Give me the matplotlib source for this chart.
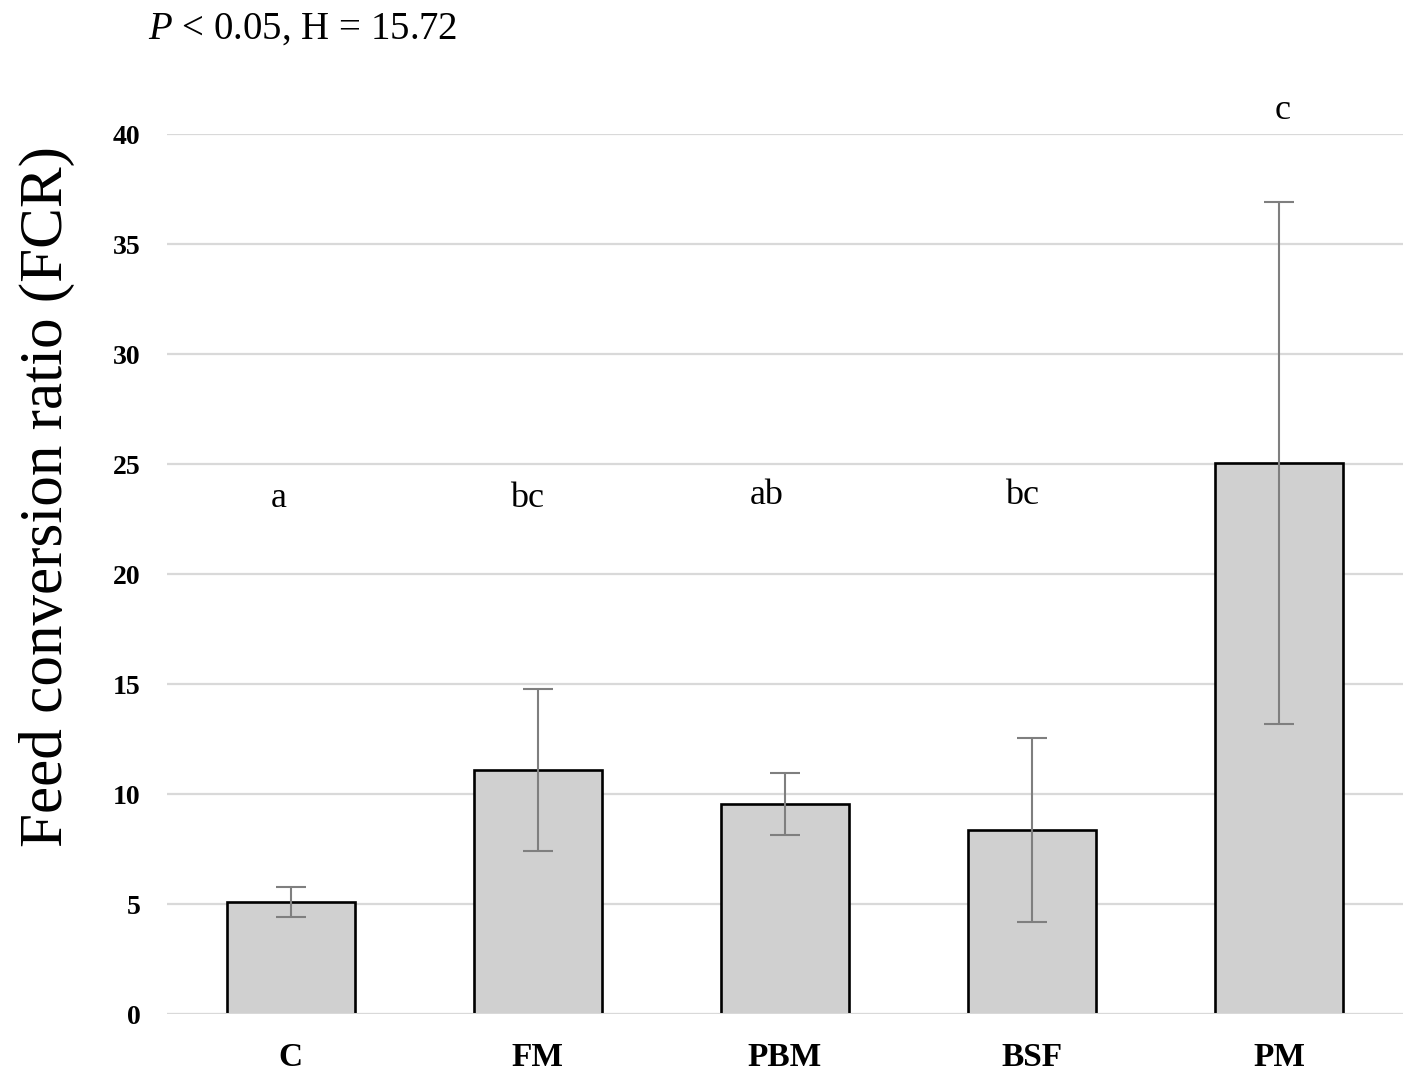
import matplotlib.pyplot as plt
import numpy as np

# data
groups = ["C", "FM", "PBM", "BSF", "PM"]
fcr_mean = [5.1, 11.1, 9.55, 8.37, 25.05]
fcr_err = [0.68, 3.68, 1.4, 4.18, 11.85]
letters = ["a", "bc", "ab", "bc", "c"]
letter_x = [-0.047, 0.956, 1.927, 2.959, 4.015]
letter_y = [23.05, 23.05, 23.2, 23.2, 40.7]

plt.rcParams['font.family'] = ['Liberation Serif', 'DejaVu Serif']
plt.rcParams['mathtext.fontset'] = 'custom'
plt.rcParams['mathtext.rm'] = 'Liberation Serif'
plt.rcParams['mathtext.it'] = 'Liberation Serif:italic'

fig = plt.figure(figsize=(14.17, 10.79), dpi=100)
ax = fig.add_axes([0.1179, 0.0602, 0.8722, 0.8156])

x = np.arange(len(groups))
ax.bar(x, fcr_mean, width=0.518, color="#d0d0d0", edgecolor="black",
       linewidth=1.9, zorder=2)
ax.errorbar(x, fcr_mean, yerr=fcr_err, fmt="none", ecolor="#7f7f7f",
            elinewidth=1.5, capsize=11, capthick=1.5, zorder=3)
ax.axhline(0, color="#d9d9d9", lw=2.2, zorder=4)

for lx, ly, t in zip(letter_x, letter_y, letters):
    ax.text(lx, ly, t, ha="center", va="baseline", fontsize=26, clip_on=False)

ax.set_xlim(-0.5, 4.5)
ax.set_ylim(0, 40)
ax.set_yticks(np.arange(0, 41, 5))
ax.set_xticks(x)
ax.set_xticklabels(groups, fontsize=24, fontweight="bold")
for lab in ax.get_yticklabels():
    lab.set_fontsize(20)
    lab.set_fontweight("bold")
ax.tick_params(axis="y", length=0, pad=19)
ax.tick_params(axis="x", length=0, pad=20)
ax.yaxis.grid(True, color="#d9d9d9", lw=1.6)
ax.set_axisbelow(True)
for s in ax.spines.values():
    s.set_visible(False)

fig.text(0.033, 0.54, "Feed conversion ratio (FCR)", rotation=90,
         ha="center", va="center", fontsize=44)
fig.text(148 / 1417, 1 - 39 / 1079, r"$\mathit{P}$ < 0.05, H = 15.72",
         fontsize=28, ha="left", va="baseline")

fig.savefig("out.png", dpi=100)
